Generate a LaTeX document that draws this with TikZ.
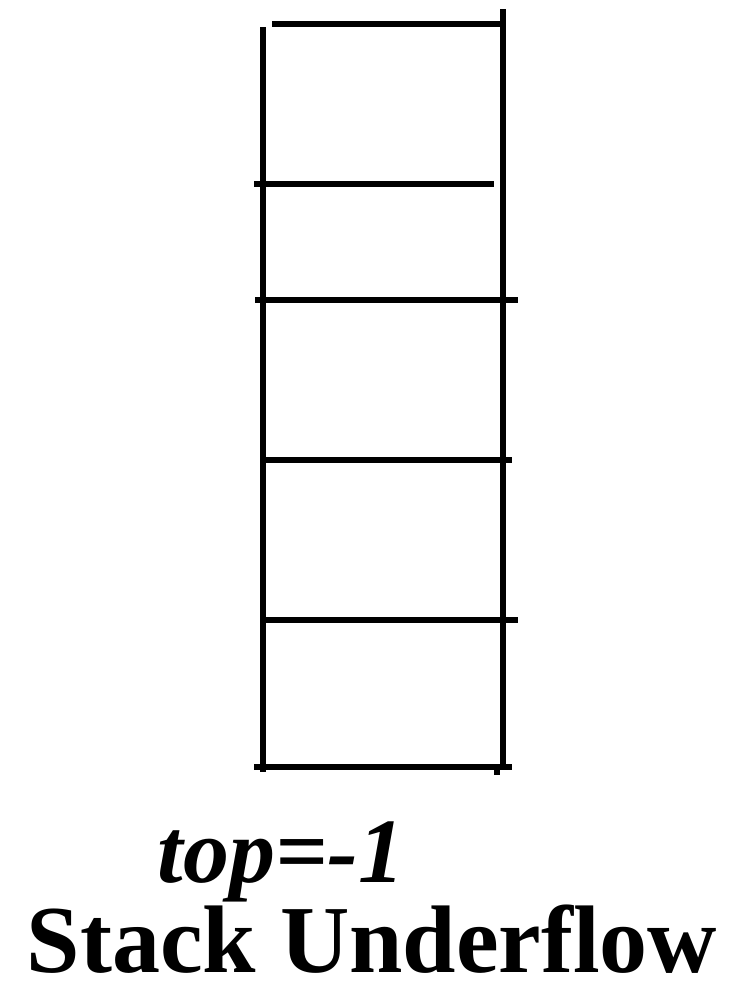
\documentclass[tikz,border=0pt]{standalone}
\usepackage{fontspec}
\setmainfont{Liberation Serif}
\begin{document}
\begin{tikzpicture}[x=1pt,y=-1pt,
  bar/.style={line width=6pt},
  lbl/.style={anchor=base,inner sep=0pt,font=\bfseries}]
\useasboundingbox (0,0) rectangle (747,994);
% verticals
\draw[bar] (263,27) -- (263,772);
\draw[bar] (503,9) -- (503,767);
\draw[bar] (497,767) -- (497,775);
% horizontals
\draw[bar] (272,24) -- (503,24);
\draw[bar] (254,184) -- (494,184);
\draw[bar] (255,300) -- (518,300);
\draw[bar] (262,460) -- (512,460);
\draw[bar] (262,620) -- (518,620);
\draw[bar] (254,767) -- (512,767);
% labels
\node[lbl,font=\bfseries\itshape\fontsize{92}{96}\selectfont] (t) at (281,882) {top=-1};
\node[lbl,font=\bfseries\fontsize{96}{98}\selectfont] (s) at (372,972) {Stack Underflow};
\end{tikzpicture}
\end{document}
